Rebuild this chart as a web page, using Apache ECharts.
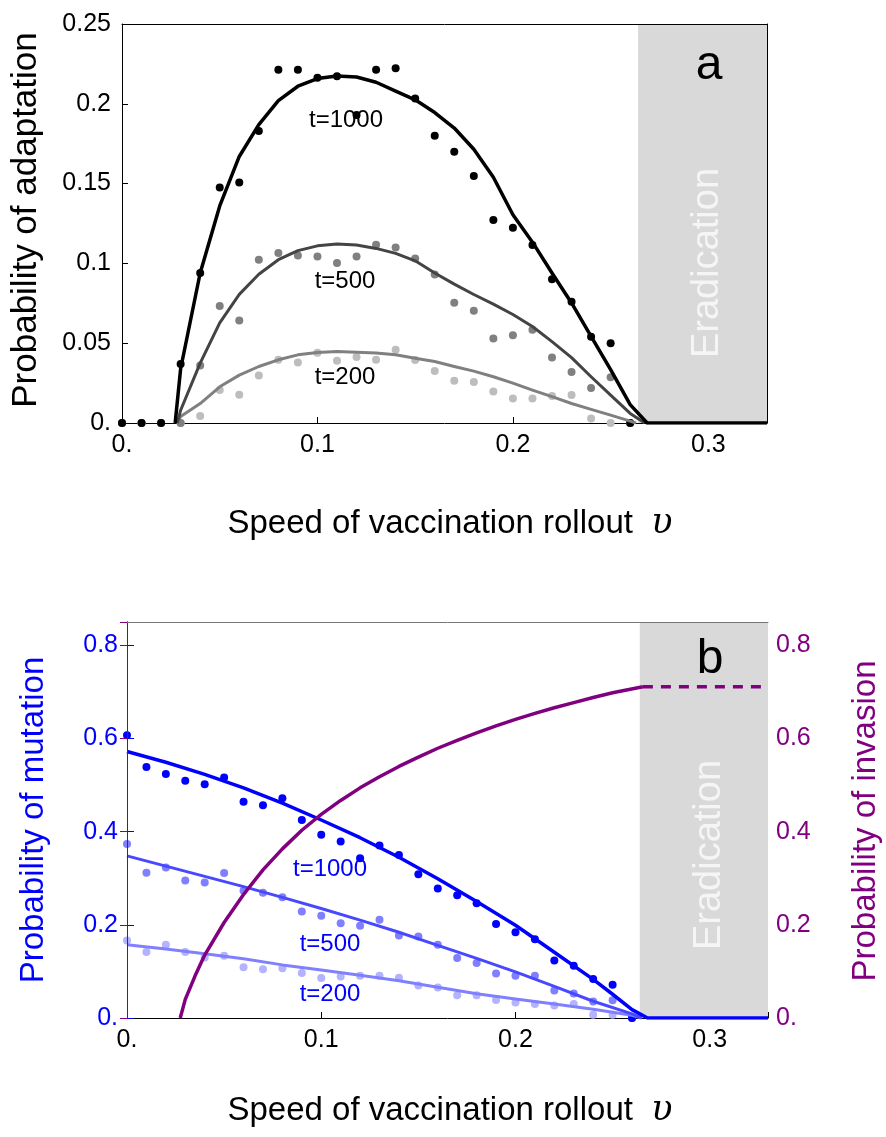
<!DOCTYPE html>
<html>
<head>
<meta charset="utf-8">
<script src="https://cdn.jsdelivr.net/npm/echarts@6/dist/echarts.min.js"></script>
<style>
  html, body { margin: 0; padding: 0; background: #fff; }
  #chart { width: 886px; height: 1137px; }
</style>
</head>
<body>
<div id="chart"></div>
<script>
// x positions of the simulated points (speed of rollout)
const vGrid = [0, 0.01, 0.02, 0.03, 0.04, 0.05, 0.06, 0.07, 0.08, 0.09, 0.10, 0.11,
  0.12, 0.13, 0.14, 0.15, 0.16, 0.17, 0.18, 0.19, 0.20, 0.21, 0.22, 0.23, 0.24,
  0.25, 0.26];

// panel a: simulated probability of adaptation
const adaptDots1000 = [0, 0, 0, 0.037, 0.094, 0.1475, 0.1507, 0.183, 0.2214, 0.2214, 0.2163, 0.2172,
  0.193, 0.2214, 0.2222, 0.2033, 0.180, 0.170, 0.1547, 0.1272, 0.1223, 0.1115, 0.090, 0.076, 0.054,
  0.050, 0];
const adaptDots500 = [0, 0, 0, 0, 0.036, 0.0733, 0.0642, 0.1023, 0.1065, 0.105, 0.1044, 0.1002,
  0.1044, 0.1117, 0.110, 0.103, 0.093, 0.0754, 0.0703, 0.053, 0.055, 0.0585, 0.041, 0.032, 0.022,
  0.0286, 0];
const adaptDots200 = [0, 0, 0, 0, 0.0044, 0.0206, 0.0177, 0.0297, 0.0396, 0.0379, 0.044, 0.039,
  0.0413, 0.0396, 0.0459, 0.0394, 0.0326, 0.0265, 0.0257, 0.0198, 0.0154, 0.0154, 0.0169, 0.0175,
  0.0028, 0, 0];

// panel a: analytic curves
const adaptX1000 = [0.0272, 0.03, 0.04, 0.05, 0.06, 0.07, 0.08, 0.09, 0.10, 0.11, 0.12, 0.13, 0.14,
  0.15, 0.16, 0.17, 0.18, 0.19, 0.20, 0.21, 0.22, 0.23, 0.24, 0.25, 0.26, 0.2687, 0.33];
const adaptY1000 = [0, 0.034, 0.094, 0.136, 0.167, 0.187, 0.202, 0.211, 0.2158, 0.2174, 0.2168,
  0.2135, 0.208, 0.2025, 0.1945, 0.1848, 0.1715, 0.154, 0.1305, 0.1133, 0.094, 0.0752, 0.0543,
  0.0335, 0.0115, 0, 0];
const adaptX500 = [0.0283, 0.03, 0.04, 0.05, 0.06, 0.07, 0.08, 0.09, 0.10, 0.11, 0.12, 0.13, 0.14,
  0.15, 0.16, 0.17, 0.18, 0.19, 0.20, 0.21, 0.22, 0.23, 0.24, 0.25, 0.26, 0.2675];
const adaptY500 = [0, 0.008, 0.0375, 0.0627, 0.0806, 0.0932, 0.1023, 0.108, 0.111, 0.1122, 0.1115,
  0.1094, 0.1063, 0.1016, 0.094, 0.087, 0.0805, 0.0745, 0.068, 0.0605, 0.051, 0.041, 0.029,
  0.0175, 0.006, 0];
const adaptX200 = [0.028, 0.03, 0.04, 0.05, 0.06, 0.07, 0.08, 0.09, 0.10, 0.11, 0.12, 0.13, 0.14,
  0.15, 0.16, 0.17, 0.18, 0.19, 0.20, 0.21, 0.22, 0.23, 0.24, 0.25, 0.26, 0.263];
const adaptY200 = [0, 0.004, 0.0122, 0.0227, 0.030, 0.0354, 0.0396, 0.0427, 0.0442, 0.0448, 0.0444,
  0.0438, 0.0427, 0.0406, 0.0385, 0.0354, 0.0325, 0.029, 0.025, 0.0206, 0.0165, 0.0122, 0.0085,
  0.0049, 0.0012, 0];

// panel b: simulated probability of mutation
const mutDots1000 = [0.607, 0.539, 0.524, 0.509, 0.5016, 0.516, 0.464, 0.4566, 0.4716, 0.425, 0.3936,
  0.379, 0.343, 0.370, 0.350, 0.3087, 0.278, 0.2636, 0.2465, 0.202, 0.1843, 0.169, 0.1235, 0.112,
  0.0836, 0.0714, 0];
const mutDots500 = [0.3736, 0.312, 0.323, 0.295, 0.2906, 0.311, 0.273, 0.269, 0.2593, 0.2286, 0.2193,
  0.2036, 0.198, 0.211, 0.177, 0.175, 0.157, 0.1286, 0.118, 0.0955, 0.0907, 0.0907, 0.059, 0.0526,
  0.0356, 0.0379, 0];
const mutDots200 = [0.1664, 0.1415, 0.157, 0.1415, 0.13, 0.1336, 0.109, 0.1048, 0.107, 0.0964, 0.0857,
  0.089, 0.0907, 0.0907, 0.0864, 0.07, 0.0657, 0.0486, 0.0486, 0.0388, 0.0335, 0.03, 0.027, 0.03,
  0.007, 0.007, 0];

// panel b: analytic curves
const mutX1000 = [0, 0.02, 0.04, 0.06, 0.08, 0.10, 0.12, 0.14, 0.16, 0.18, 0.20, 0.22, 0.24, 0.25,
  0.26, 0.268, 0.33];
const mutY1000 = [0.572, 0.549, 0.523, 0.494, 0.461, 0.425, 0.387, 0.345, 0.299, 0.250, 0.199,
  0.141, 0.083, 0.051, 0.018, 0, 0];
const mutX = [0, 0.02, 0.04, 0.06, 0.08, 0.10, 0.12, 0.14, 0.16, 0.18, 0.20, 0.22, 0.24, 0.26, 0.265];
const mutY500 = [0.348, 0.326, 0.304, 0.282, 0.259, 0.235, 0.210, 0.184, 0.156, 0.128, 0.099, 0.068,
  0.036, 0.009, 0];
const mutY200 = [0.157, 0.148, 0.138, 0.127, 0.114, 0.103, 0.092, 0.080, 0.066, 0.052, 0.041, 0.030,
  0.019, 0.006, 0];

// panel b: probability of invasion (right axis)
const invX = [0.0274, 0.03, 0.035, 0.04, 0.05, 0.06, 0.07, 0.08, 0.09, 0.10, 0.11, 0.12, 0.13, 0.14,
  0.15, 0.16, 0.17, 0.18, 0.19, 0.20, 0.21, 0.22, 0.23, 0.24, 0.25, 0.2656];
const invY = [0, 0.04, 0.09, 0.135, 0.205, 0.265, 0.318, 0.363, 0.403, 0.437, 0.467, 0.494, 0.518,
  0.54, 0.56, 0.579, 0.596, 0.612, 0.627, 0.641, 0.654, 0.666, 0.677, 0.688, 0.698, 0.711];
const invPlateauX = [0.2656, 0.33];
const invPlateauY = [0.711, 0.711];

const eradStart = 0.264;
const xMax = 0.33;

// tick labels
const xTickLabels = ['0.', '0.1', '0.2', '0.3'];
const adaptTickLabels = ['0.', '0.05', '0.1', '0.15', '0.2', '0.25'];
const mutTickLabels = ['0.', '0.2', '0.4', '0.6', '0.8'];

const FONT = '"Liberation Sans", Arial, sans-serif';
const SERIF = '"DejaVu Serif", "Liberation Serif", serif';
const BLUE = '#0000ff';
const PURPLE = '#800080';

function pairs(xs, ys) {
  return xs.map((x, i) => [x, ys[i]]);
}

function tickFmt(labels, step) {
  return function (v) {
    const i = Math.round(v / step);
    return Math.abs(v - i * step) < 1e-6 && labels[i] !== undefined ? labels[i] : '';
  };
}

function frameAxis(gridIndex, position, color, max) {
  return {
    gridIndex: gridIndex, type: 'value', position: position, min: 0, max: max, z: 10,
    axisLine: { show: true, onZero: false, lineStyle: { color: color, width: 1 } },
    axisTick: { show: false }, axisLabel: { show: false }, splitLine: { show: false }
  };
}

function dots(xi, yi, ys, color) {
  return {
    type: 'scatter', xAxisIndex: xi, yAxisIndex: yi, data: pairs(vGrid, ys), symbolSize: 8,
    itemStyle: { color: color, opacity: 1 }, z: 2
  };
}

function curve(xi, yi, xs, ys, color, width, z) {
  return {
    type: 'line', xAxisIndex: xi, yAxisIndex: yi, data: pairs(xs, ys), showSymbol: false,
    lineStyle: { color: color, width: width, join: 'round' }, z: z
  };
}

function txt(x, y, text, size, color, rot) {
  return {
    type: 'text', x: x, y: y, rotation: rot || 0, z: 20,
    style: { text: text, font: size + 'px ' + FONT, fill: color, align: 'center', verticalAlign: 'middle' }
  };
}

function xTitle(y) {
  return {
    type: 'text', x: 450, y: y, z: 20,
    style: {
      text: '{n|Speed of vaccination rollout  }{u|υ}', align: 'center', verticalAlign: 'middle',
      rich: {
        n: { fontSize: 33, fontFamily: FONT, color: '#000' },
        u: { fontSize: 35, fontFamily: SERIF, fontStyle: 'italic', color: '#000' }
      }
    }
  };
}

const chart = echarts.init(document.getElementById('chart'), null, { renderer: 'canvas' });

const tickFont = { fontSize: 25, fontFamily: FONT };

const option = {
  animation: false,
  backgroundColor: '#fff',
  grid: [
    { left: 122, top: 24, width: 645, height: 399 },
    { left: 127, top: 622, width: 641, height: 396 }
  ],
  xAxis: [
    {
      gridIndex: 0, type: 'value', min: 0, max: xMax, interval: 0.1,
      axisLine: { onZero: false, lineStyle: { color: '#000' } },
      axisTick: { inside: true, length: 6, lineStyle: { color: '#000' } },
      axisLabel: Object.assign({ formatter: tickFmt(xTickLabels, 0.1), color: '#000', margin: 10 }, tickFont),
      splitLine: { show: false }
    },
    frameAxis(0, 'top', '#000', xMax),
    {
      gridIndex: 1, type: 'value', min: 0, max: xMax, interval: 0.1,
      axisLine: { onZero: false, lineStyle: { color: '#000' } },
      axisTick: { inside: true, length: 6, lineStyle: { color: '#000' } },
      axisLabel: Object.assign({ formatter: tickFmt(xTickLabels, 0.1), color: '#000', margin: 10 }, tickFont),
      splitLine: { show: false }
    },
    frameAxis(1, 'top', '#777', xMax)
  ],
  yAxis: [
    {
      gridIndex: 0, type: 'value', min: 0, max: 0.25, interval: 0.05,
      axisLine: { show: true, lineStyle: { color: '#000' } },
      axisTick: { show: true, inside: true, length: 6, lineStyle: { color: '#000' } },
      axisLabel: Object.assign({ formatter: tickFmt(adaptTickLabels, 0.05), color: '#000', margin: 11 }, tickFont),
      splitLine: { show: false }
    },
    frameAxis(0, 'right', '#000', 0.25),
    {
      gridIndex: 1, type: 'value', min: 0, max: 0.85, interval: 0.2,
      axisLine: { show: true, lineStyle: { color: BLUE } },
      axisTick: { show: true, inside: true, length: 7, lineStyle: { color: BLUE } },
      axisLabel: Object.assign({ formatter: tickFmt(mutTickLabels, 0.2), color: BLUE, margin: 9 }, tickFont),
      splitLine: { show: false }
    },
    {
      gridIndex: 1, type: 'value', position: 'right', min: 0, max: 0.85, interval: 0.2, z: 10,
      axisLine: { show: true, lineStyle: { color: PURPLE } },
      axisTick: { show: true, inside: true, length: 7, lineStyle: { color: PURPLE } },
      axisLabel: Object.assign({ formatter: tickFmt(mutTickLabels, 0.2), color: PURPLE, margin: 8 }, tickFont),
      splitLine: { show: false }
    }
  ],
  series: [
    // panel a
    {
      type: 'line', xAxisIndex: 0, yAxisIndex: 0, data: [], z: 1, silent: true,
      markArea: { silent: true, itemStyle: { color: '#d9d9d9' }, data: [[{ xAxis: eradStart }, { xAxis: xMax }]] }
    },
    dots(0, 0, adaptDots200, '#bdbdbd'),
    dots(0, 0, adaptDots500, '#808080'),
    dots(0, 0, adaptDots1000, '#000'),
    curve(0, 0, adaptX200, adaptY200, '#808080', 3, 3),
    curve(0, 0, adaptX500, adaptY500, '#444', 3, 3),
    curve(0, 0, adaptX1000, adaptY1000, '#000', 3.5, 4),

    // panel b
    {
      type: 'line', xAxisIndex: 2, yAxisIndex: 2, data: [], z: 1, silent: true,
      markArea: { silent: true, itemStyle: { color: '#d9d9d9' }, data: [[{ xAxis: eradStart }, { xAxis: xMax }]] }
    },
    dots(2, 2, mutDots200, '#b3b3ff'),
    dots(2, 2, mutDots500, '#7f7fff'),
    dots(2, 2, mutDots1000, BLUE),
    curve(2, 2, mutX, mutY200, '#8080ff', 3, 3),
    curve(2, 2, mutX, mutY500, '#4848ff', 3, 3),
    curve(2, 2, mutX1000, mutY1000, BLUE, 3.5, 4),
    curve(2, 3, invX, invY, PURPLE, 3.5, 5),
    { type: 'line', xAxisIndex: 2, yAxisIndex: 3, data: pairs(invPlateauX, invPlateauY), showSymbol: false,
      lineStyle: { color: PURPLE, width: 3.5, type: [10, 8] }, z: 5 }
  ],
  graphic: [
    // panel a texts
    txt(708, 263, 'Eradication', 38, '#f5f5f5', Math.PI / 2),
    txt(709, 66, 'a', 48, '#000'),
    txt(346, 120, 't=1000', 24, '#000'),
    txt(345, 281, 't=500', 24, '#000'),
    txt(345, 377, 't=200', 24, '#000'),
    txt(26, 220, 'Probability of adaptation', 35, '#000', Math.PI / 2),
    xTitle(524),

    // panel b texts
    txt(710, 855, 'Eradication', 38, '#f5f5f5', Math.PI / 2),
    txt(710, 660, 'b', 48, '#000'),
    txt(330, 869, 't=1000', 24, BLUE),
    txt(330, 944, 't=500', 24, BLUE),
    txt(330, 994, 't=200', 24, BLUE),
    txt(34, 820, 'Probability of mutation', 33, BLUE, Math.PI / 2),
    txt(866, 821, 'Probability of invasion', 33, PURPLE, Math.PI / 2),
    xTitle(1111)
  ]
};

chart.setOption(option);
</script>
</body>
</html>
